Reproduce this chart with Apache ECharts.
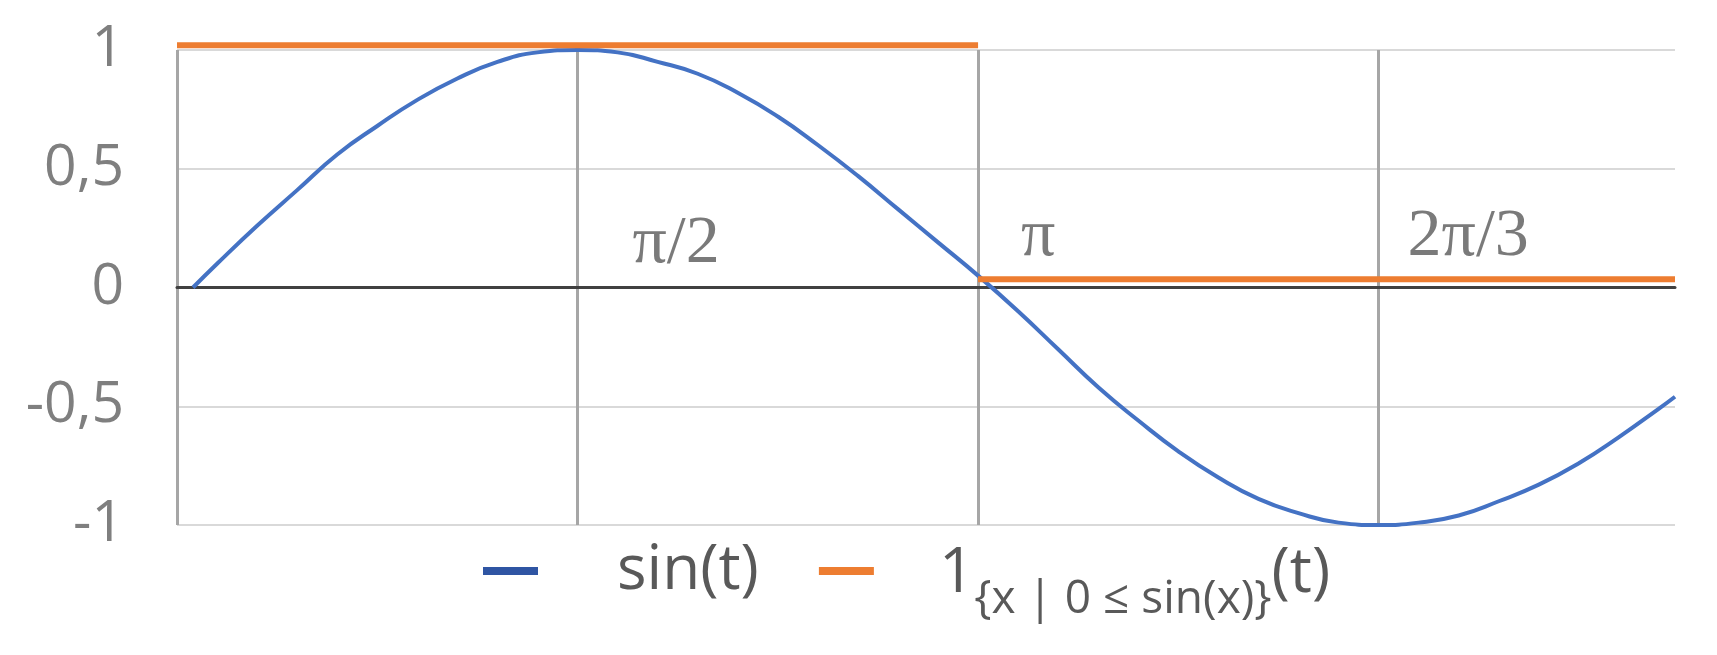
<!DOCTYPE html>
<html>
<head>
<meta charset="utf-8">
<script src="https://cdn.jsdelivr.net/npm/echarts@6/dist/echarts.min.js"></script>
<style>
  html, body { margin: 0; padding: 0; background: #fff; }
  #chart { width: 1717px; height: 655px; }
</style>
</head>
<body>
<div id="chart"></div>
<script>
// x is measured in quarter periods (1 = pi/2)
const tValues = [0.04, 0.1, 0.2, 0.3, 0.4, 0.5, 0.6, 0.7, 0.8, 0.9, 1.0,
  1.1, 1.2, 1.3, 1.4, 1.5, 1.6, 1.7, 1.8, 1.9, 2.0,
  2.1, 2.2, 2.3, 2.4, 2.5, 2.6, 2.7, 2.8, 2.9, 3.0,
  3.1, 3.2, 3.3, 3.4, 3.5, 3.6, 3.7, 3.74];
const sinValues = [0, 0.10, 0.26, 0.41, 0.56, 0.68, 0.79, 0.88, 0.95, 0.99, 1.00,
  0.99, 0.95, 0.90, 0.82, 0.72, 0.60, 0.47, 0.33, 0.19, 0.05,
  -0.10, -0.26, -0.42, -0.56, -0.69, -0.80, -0.89, -0.95, -0.99, -1.00,
  -0.99, -0.96, -0.90, -0.83, -0.74, -0.63, -0.51, -0.46];

// indicator function, broken at pi
const stepT = [0, 2, 2, 2, 3.74];
const stepValues = [1.02, 1.02, '-', 0.035, 0.035];

const xTicks = [0, 1, 2, 3];
const xTickLabels = ['', 'π/2', 'π', '2π/3'];
const yTicks = [-1, -0.5, 0, 0.5, 1];
const yTickLabels = ['-1', '-0,5', '0', '0,5', '1'];
const seriesNames = ['sin(t)', '1{x | 0 ≤ sin(x)}(t)'];

const chart = echarts.init(document.getElementById('chart'));

const serifLabel = { fontFamily: 'Liberation Serif', fontSize: 68, color: '#7a7a7a' };

const option = {
  backgroundColor: '#fff',
  animation: false,
  textStyle: { fontFamily: 'Open Sans' },
  grid: { left: 177, right: 42, top: 50, bottom: 130, outerBoundsMode: 'none' },
  xAxis: {
    type: 'value',
    min: 0,
    max: 3.74,
    interval: 1,
    axisLine: { onZero: true, lineStyle: { color: '#404040', width: 3 } },
    axisTick: { show: false },
    splitLine: { show: true, showMaxLine: false, lineStyle: { color: '#a6a6a6', width: 3 } },
    axisLabel: {
      inside: true,
      showMaxLabel: false,
      margin: 247, // labels sit just above the zero line
      align: 'left',
      formatter: function (v) {
        const i = xTicks.indexOf(v);
        if (i < 1) return '';
        return '{l' + i + '|' + xTickLabels[i] + '}';
      },
      rich: {
        l1: Object.assign({ padding: [0, 0, 0, 55] }, serifLabel),
        l2: Object.assign({ padding: [0, 0, 7, 43] }, serifLabel),
        l3: Object.assign({ padding: [0, 0, 7, 29] }, serifLabel)
      }
    }
  },
  yAxis: {
    type: 'value',
    min: -1,
    max: 1,
    interval: 0.5,
    axisLine: { show: false },
    axisTick: { show: false },
    splitLine: { lineStyle: { color: '#d9d9d9', width: 2 } },
    axisLabel: {
      margin: 53,
      fontSize: 57,
      fontFamily: 'Open Sans',
      color: '#7f7f7f',
      formatter: function (v) {
        const i = yTicks.indexOf(v);
        return i < 0 ? '' : yTickLabels[i];
      }
    }
  },
  legend: {
    left: 483,
    top: 540,
    padding: 0,
    icon: 'rect',
    itemWidth: 55,
    itemHeight: 8,
    itemGap: 60,
    textStyle: {
      fontFamily: 'Open Sans',
      color: '#595959',
      rich: {
        m: { fontFamily: 'Open Sans', fontSize: 62, color: '#595959', padding: [0, 0, 50, 0] },
        m2: { fontFamily: 'Open Sans', fontSize: 62, color: '#595959', padding: [0, 0, 50, 0] }
      }
    },
    data: [
      { name: seriesNames[0], itemStyle: { color: '#2f55a3' },
        textStyle: { fontSize: 62, padding: [0, 0, 0, 74] } },
      { name: seriesNames[1], itemStyle: { color: '#ed7d31' },
        textStyle: { fontSize: 46, padding: [57, 0, 0, 60] } }
    ],
    formatter: function (name) {
      if (name === seriesNames[1]) return '{m|1}{x | 0 ≤ sin(x)}{m2|(t)}';
      return name;
    }
  },
  series: [
    {
      name: seriesNames[0],
      type: 'line',
      data: tValues.map((t, i) => [t, sinValues[i]]),
      smooth: 0.5,
      symbol: 'none',
      lineStyle: { color: '#4472c4', width: 4 },
      itemStyle: { color: '#4472c4' },
      z: 3
    },
    {
      name: seriesNames[1],
      type: 'line',
      data: stepT.map((t, i) => [t, stepValues[i]]),
      symbol: 'none',
      clip: false,
      lineStyle: { color: '#ed7d31', width: 6 },
      itemStyle: { color: '#ed7d31' },
      z: 4
    }
  ]
};

chart.setOption(option);
</script>
</body>
</html>
